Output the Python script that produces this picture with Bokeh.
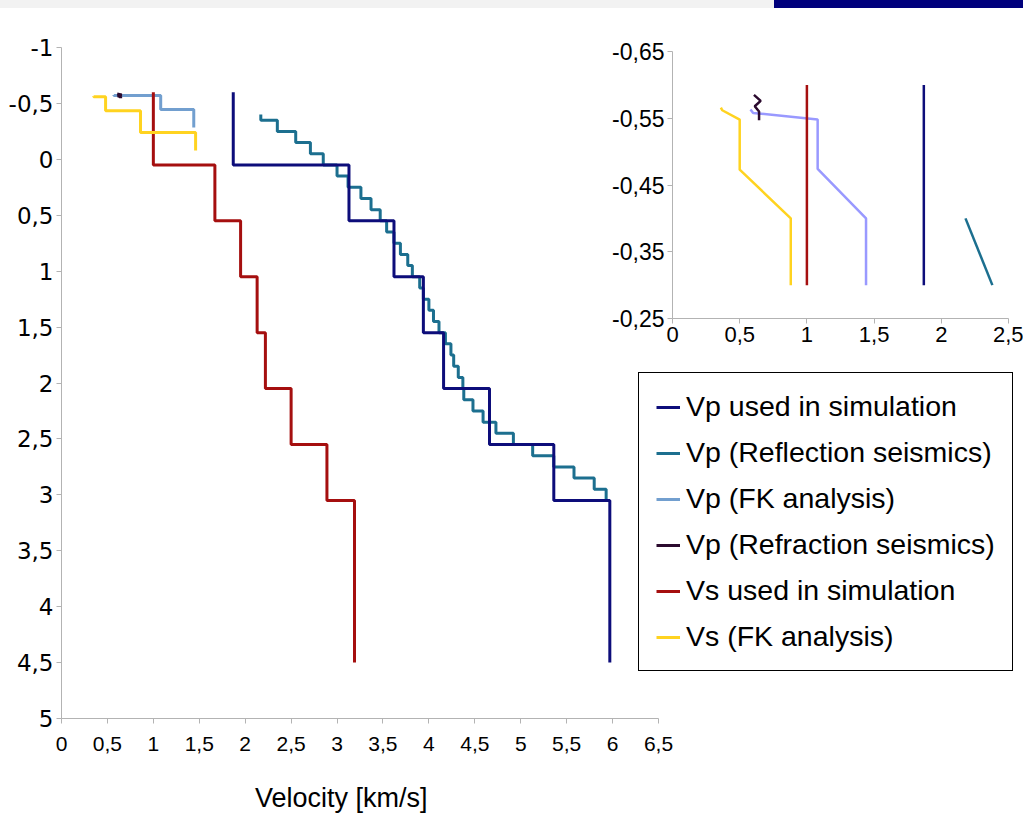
from bokeh.plotting import figure
from bokeh.models import (Range1d, FixedTicker, Legend, LegendItem, Div)
from bokeh.embed import file_html
from bokeh.resources import INLINE

# ---------------- data: velocity profiles (km/s) vs depth (km) ----------------
# layered models: one velocity per layer, boundaries has one more entry
vp_sim_vel = [1.87, 3.13, 3.62, 3.94, 4.16, 4.66, 5.36, 5.97]
vs_sim_vel = [1.00, 1.67, 1.95, 2.13, 2.22, 2.50, 2.89, 3.19]
sim_bounds = [-0.60, 0.05, 0.55, 1.05, 1.55, 2.05, 2.55, 3.05, 4.50]

refl_vel = [2.17, 2.35, 2.55, 2.71, 2.85, 3.00, 3.12, 3.26, 3.37, 3.47,
            3.54, 3.62, 3.69, 3.77, 3.82, 3.90, 3.94, 4.00, 4.05, 4.11,
            4.18, 4.24, 4.27, 4.32, 4.37, 4.38, 4.48, 4.59, 4.73, 4.92,
            5.13, 5.36, 5.58, 5.80, 5.93]
refl_bounds = [-0.40, -0.35, -0.25, -0.15, -0.05, 0.05, 0.15, 0.25, 0.35, 0.45,
               0.55, 0.65, 0.75, 0.85, 0.95, 1.05, 1.15, 1.25, 1.35, 1.45,
               1.55, 1.65, 1.75, 1.85, 1.95, 2.05, 2.15, 2.25, 2.35, 2.45,
               2.55, 2.65, 2.75, 2.85, 2.95, 3.05]

vp_fk_vel = [0.57, 1.08, 1.44]
vp_fk_bounds = [-0.575, -0.57, -0.445, -0.285]

vs_fk_vel = [0.35, 0.48, 0.86, 1.46]
vs_fk_bounds = [-0.565, -0.56, -0.435, -0.24, -0.08]

# refraction picks (polyline)
refr_vel = [0.606, 0.656, 0.612, 0.644, 0.644]
refr_depth = [-0.585, -0.576, -0.568, -0.560, -0.547]

# near-surface detail (polylines)
ins_vp_sim_vel = [1.87, 1.87]
ins_vp_sim_depth = [-0.60, -0.30]
ins_vs_sim_vel = [1.00, 1.00]
ins_vs_sim_depth = [-0.60, -0.30]
ins_refl_vel = [2.18, 2.38]
ins_refl_depth = [-0.40, -0.30]
ins_vp_fk_vel = [0.58, 0.60, 1.08, 1.08, 1.44, 1.44]
ins_vp_fk_depth = [-0.563, -0.558, -0.548, -0.474, -0.40, -0.30]
ins_vs_fk_vel = [0.36, 0.37, 0.50, 0.50, 0.88, 0.88]
ins_vs_fk_depth = [-0.566, -0.562, -0.548, -0.473, -0.40, -0.30]

series_names = ["Vp used in simulation", "Vp (Reflection seismics)",
                "Vp (FK analysis)", "Vp (Refraction seismics)",
                "Vs used in simulation", "Vs (FK analysis)"]

x_title = "Velocity [km/s]"
x_ticks = [0, 0.5, 1, 1.5, 2, 2.5, 3, 3.5, 4, 4.5, 5, 5.5, 6, 6.5]
x_tick_labels = ["0", "0,5", "1", "1,5", "2", "2,5", "3", "3,5", "4", "4,5",
                 "5", "5,5", "6", "6,5"]
y_ticks = [-1, -0.5, 0, 0.5, 1, 1.5, 2, 2.5, 3, 3.5, 4, 4.5, 5]
y_tick_labels = ["-1", "-0,5", "0", "0,5", "1", "1,5", "2", "2,5", "3", "3,5",
                 "4", "4,5", "5"]
ins_x_ticks = [0, 0.5, 1, 1.5, 2, 2.5]
ins_x_tick_labels = ["0", "0,5", "1", "1,5", "2", "2,5"]
ins_y_ticks = [-0.65, -0.55, -0.45, -0.35, -0.25]
ins_y_tick_labels = ["-0,65", "-0,55", "-0,45", "-0,35", "-0,25"]

C_NAVY = "#0d0d7a"
C_TEAL = "#1c6f8f"
C_LBLUE = "#729fcf"
C_LAV = "#9999ff"
C_DARK = "#2b0a2e"
C_RED = "#a50f0f"
C_YEL = "#ffd320"

FONT = "Liberation Sans"
FONT_NARROW = "Liberation Sans Narrow, Liberation Sans"
FONT_WIDE = "DejaVu Sans"
AXIS_GREY = "#b3b3b3"
NAN = float("nan")


def layered(vel, bounds):
    """Turn a layered model into a polyline of vertical and horizontal segments."""
    xs, ys = [], []
    for i, v in enumerate(vel):
        xs += [v, v]
        ys += [bounds[i], bounds[i + 1]]
    return xs, ys


def style_axis(ax, ticks, labels, font, size, standoff):
    ax.ticker = FixedTicker(ticks=ticks)
    ax.major_label_overrides = {t: l for t, l in zip(ticks, labels)}
    ax.axis_line_color = AXIS_GREY
    ax.major_tick_line_color = AXIS_GREY
    ax.minor_tick_line_color = None
    ax.major_tick_out = 5
    ax.major_tick_in = 0
    ax.major_label_text_font = font
    ax.major_label_text_font_size = size
    ax.major_label_text_color = "#000000"
    ax.major_label_standoff = standoff


def clean(fig):
    fig.xgrid.visible = False
    fig.ygrid.visible = False
    fig.outline_line_color = None


# ---------------- main chart ----------------
p = figure(width=1023, height=815, x_range=Range1d(0, 6.5), y_range=Range1d(5, -1),
           output_backend="svg", toolbar_location=None,
           min_border_left=61, min_border_right=365,
           min_border_top=47, min_border_bottom=97)
clean(p)
style_axis(p.xaxis[0], x_ticks, x_tick_labels, FONT_NARROW, "21px", 13)
style_axis(p.yaxis[0], y_ticks, y_tick_labels, FONT_WIDE, "23px", 3)
# trailing no-break spaces move the centred caption a little to the left
p.xaxis.axis_label = x_title + "\u00a0" * 5
p.xaxis.axis_label_text_font = FONT
p.xaxis.axis_label_text_font_size = "27px"
p.xaxis.axis_label_text_font_style = "normal"
p.xaxis.axis_label_text_color = "#000000"
p.xaxis.axis_label_standoff = 29

LW = 3
xs, ys = layered(refl_vel, refl_bounds)
r_refl = p.line(xs, ys, line_color=C_TEAL, line_width=LW)
xs, ys = layered(vp_sim_vel, sim_bounds)
r_vp_sim = p.line(xs, ys, line_color=C_NAVY, line_width=LW)
xs, ys = layered(vp_fk_vel, vp_fk_bounds)
r_vp_fk = p.line(xs, ys, line_color=C_LBLUE, line_width=LW)
r_refr = p.line(refr_vel, refr_depth, line_color=C_DARK, line_width=LW)
xs, ys = layered(vs_sim_vel, sim_bounds)
r_vs_sim = p.line(xs, ys, line_color=C_RED, line_width=LW)
xs, ys = layered(vs_fk_vel, vs_fk_bounds)
r_vs_fk = p.line(xs, ys, line_color=C_YEL, line_width=LW)

# ---------------- near-surface inset ----------------
ins = figure(width=433, height=340, x_range=Range1d(0, 2.5), y_range=Range1d(-0.25, -0.65),
             output_backend="svg", toolbar_location=None,
             min_border_left=82, min_border_right=15,
             min_border_top=21, min_border_bottom=52,
             styles={"position": "absolute", "left": "590px", "top": "30px", "z-index": "2"})
clean(ins)
style_axis(ins.xaxis[0], ins_x_ticks, ins_x_tick_labels, FONT, "22px", 3)
style_axis(ins.yaxis[0], ins_y_ticks, ins_y_tick_labels, FONT, "23px", 3)
ILW = 2.5
ins.line(ins_vs_fk_vel, ins_vs_fk_depth, line_color=C_YEL, line_width=ILW)
ins.line(ins_vp_fk_vel, ins_vp_fk_depth, line_color=C_LAV, line_width=ILW)
ins.line(ins_vs_sim_vel, ins_vs_sim_depth, line_color=C_RED, line_width=ILW)
ins.line(ins_vp_sim_vel, ins_vp_sim_depth, line_color=C_NAVY, line_width=ILW)
ins.line(ins_refl_vel, ins_refl_depth, line_color=C_TEAL, line_width=ILW)
ins.line(refr_vel, refr_depth, line_color=C_DARK, line_width=ILW)

# ---------------- legend panel ----------------
lg = figure(width=385, height=310, x_range=Range1d(0, 1), y_range=Range1d(0, 1),
            x_axis_type=None, y_axis_type=None,
            output_backend="svg", toolbar_location=None,
            min_border=0,
            styles={"position": "absolute", "left": "638px", "top": "372px", "z-index": "2"})
clean(lg)
lg.background_fill_alpha = 0
lg.border_fill_alpha = 0
key_colors = [C_NAVY, C_TEAL, C_LBLUE, C_DARK, C_RED, C_YEL]
# key swatches only: a single undefined point, so nothing is drawn in the panel itself
key_renderers = [lg.line([NAN], [NAN], line_color=c, line_width=LW) for c in key_colors]
legend = Legend(items=[LegendItem(label=n, renderers=[r])
                       for n, r in zip(series_names, key_renderers)],
                location="top_left")
legend.border_line_color = "#000000"
legend.border_line_alpha = 1
legend.border_line_width = 1.5
legend.background_fill_color = "#ffffff"
legend.background_fill_alpha = 1
legend.label_text_font = FONT
legend.label_text_font_size = "28.5px"
legend.label_text_color = "#000000"
legend.glyph_width = 24
legend.glyph_height = 30
legend.label_height = 30
legend.label_standoff = 6
legend.spacing = 13
legend.padding = 17
legend.margin = 0
lg.add_layout(legend)

# thin banner strip along the top edge
strip = Div(text="", width=1023, height=8, margin=0,
            styles={"position": "absolute", "left": "0px", "top": "0px", "z-index": "3",
                    "background": "linear-gradient(to right, #f2f2f2 0px, #f2f2f2 774px, #00007c 774px, #00007c 1023px)"})

open("out.html", "w").write(file_html([p, ins, lg, strip], INLINE))
